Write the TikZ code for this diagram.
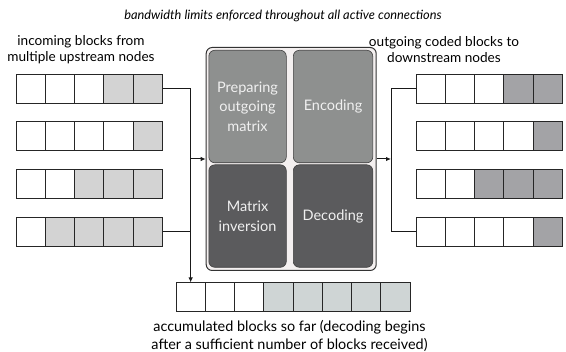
\documentclass[tikz,border=0pt]{standalone}
\usepackage{fontspec}
\setmainfont{Lato}
\usetikzlibrary{arrows.meta}
\definecolor{lg}{HTML}{D3D3D3}
\definecolor{dg}{HTML}{A3A3A6}
\definecolor{bg}{HTML}{CFD5D5}
\definecolor{topbox}{HTML}{8E908F}
\definecolor{botbox}{HTML}{5B5B5D}
\definecolor{panelbg}{HTML}{F4F0F0}
\definecolor{boxtxt}{HTML}{F0F0F0}
\tikzset{
  cell/.style={draw=black!85, line width=0.9pt, minimum width=29.3pt, minimum height=29pt, inner sep=0pt, outer sep=0pt, anchor=north west},
  conn/.style={line width=1pt, black!90},
  arr/.style={conn, -{Latex[length=5pt,width=4.5pt]}},
  inner/.style={draw=black!75, line width=0.6pt, rounded corners=6pt, anchor=north west, inner sep=0pt, text=boxtxt, align=center, font=\fontsize{14.5}{19.5}\selectfont},
  lbl/.style={align=center, inner sep=0pt, font=\fontsize{13.6}{16}\selectfont}
}
\begin{document}
\begin{tikzpicture}[x=1pt,y=-1pt]
\useasboundingbox (0,0) rectangle (566,352);
% title
\node[font=\fontsize{12.8}{14}\selectfont\itshape, inner sep=0pt] (title) at (283,16) {bandwidth limits enforced throughout all active connections};
\node[lbl] (inlbl) at (81,50) {incoming blocks from\\multiple upstream nodes};
\node[lbl] (outlbl) at (444,50) {outgoing coded blocks to\\downstream nodes};
% left rows
\foreach \f [count=\i] in {white,white,white,lg,lg} \node[cell, fill=\f] (L1-\i) at ({16+(\i-1)*29.3},74) {};
\foreach \f [count=\i] in {white,white,white,white,lg} \node[cell, fill=\f] (L2-\i) at ({16+(\i-1)*29.3},121.5) {};
\foreach \f [count=\i] in {white,white,lg,lg,lg} \node[cell, fill=\f] (L3-\i) at ({16+(\i-1)*29.3},169) {};
\foreach \f [count=\i] in {white,lg,lg,lg,lg} \node[cell, fill=\f] (L4-\i) at ({16+(\i-1)*29.3},217) {};
% right rows
\foreach \f [count=\i] in {white,white,white,dg,dg} \node[cell, fill=\f] (R1-\i) at ({416+(\i-1)*29.3},74) {};
\foreach \f [count=\i] in {white,white,white,white,dg} \node[cell, fill=\f] (R2-\i) at ({416+(\i-1)*29.3},121.5) {};
\foreach \f [count=\i] in {white,white,dg,dg,dg} \node[cell, fill=\f] (R3-\i) at ({416+(\i-1)*29.3},169) {};
\foreach \f [count=\i] in {white,white,white,white,dg} \node[cell, fill=\f] (R4-\i) at ({416+(\i-1)*29.3},217) {};
% bottom row
\foreach \f [count=\i] in {white,white,white,bg,bg,bg,bg,bg} \node[cell, fill=\f] (B-\i) at ({176+(\i-1)*29.25},282.5) {};
\node[lbl, font=\fontsize{14.4}{18}\selectfont] (botlbl) at (289.5,336) {accumulated blocks so far (decoding begins\\after a sufficient number of blocks received)};
% panel
\node[draw=black!80, line width=1pt, rounded corners=6pt, fill=panelbg, minimum width=170pt, minimum height=223pt, inner sep=0pt, anchor=north west] (panel) at (205.7,47) {};
\node[inner, fill=topbox, minimum width=77.5pt, minimum height=112.5pt] (prep) at (208.5,50) {Preparing\\outgoing\\matrix};
\node[inner, fill=topbox, minimum width=79.5pt, minimum height=112.5pt] (enc) at (293,50) {Encoding};
\node[inner, fill=botbox, minimum width=77.5pt, minimum height=102.5pt] (inv) at (208.5,164.5) {Matrix\\inversion};
\node[inner, fill=botbox, minimum width=79.5pt, minimum height=102.5pt] (dec) at (293,164.5) {Decoding};
% connectors left
\draw[arr] (L1-5.east) -| (B-1.north);
\draw[conn] (L4-5.east) -- (L4-5.east -| B-1.north);
\draw[arr] (panel.west -| B-1.north) -- (panel.west);
% connectors right
\coordinate (rb) at (391,0);
\draw[conn] (R1-1.west) -| (R4-1.west -| rb) -- (R4-1.west);
\draw[arr] (panel.east) -- (panel.east -| rb);
\end{tikzpicture}
\end{document}
